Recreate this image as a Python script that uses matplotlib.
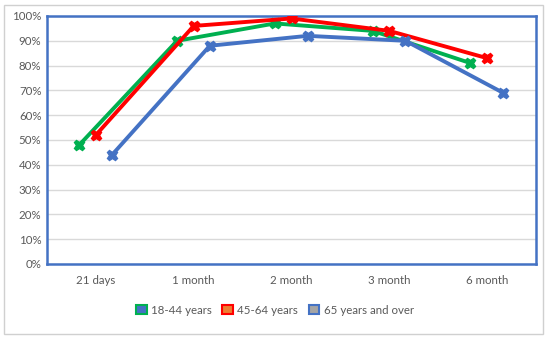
import matplotlib
matplotlib.use('Agg')
import matplotlib.pyplot as plt
import numpy as np
from matplotlib.patches import Rectangle

categories = ['21 days', '1 month', '2 month', '3 month', '6 month']
series_names = ['18-44 years', '45-64 years', '65 years and over']
young = [48, 90, 97, 94, 81]
middle = [52, 96, 99, 94, 83]
older = [44, 88, 92, 90, 69]

line_colors = ['#00B050', '#FF0000', '#4472C4']
fill_colors = ['#4472C4', '#ED7D31', '#A5A5A5']
offsets = [-0.17, 0.0, 0.165]

plt.rcParams['font.family'] = ['Lato', 'DejaVu Sans']

fig = plt.figure(figsize=(5.5, 3.41), dpi=100)
fig.patch.set_facecolor('white')

# outer chart border
fig.patches.append(Rectangle((4/550, 1 - 334/341), 539/550, 329/341,
                             transform=fig.transFigure, fill=False,
                             edgecolor='#D0D0D0', linewidth=1))

ax = fig.add_axes([47/550, 1 - 264/341, 489/550, 248/341])

x = np.arange(len(categories))
for vals, lc, off in zip([young, middle, older], line_colors, offsets):
    ax.plot(x + off, vals, color=lc, linewidth=2.8, marker='X',
            markersize=7.5, markerfacecolor=lc, markeredgecolor=lc,
            solid_capstyle='round', zorder=3)

ax.set_xlim(-0.5, len(categories) - 0.5)
ax.set_ylim(0, 100)
ax.set_yticks(np.arange(0, 101, 10))
ax.set_yticklabels([str(v) + '%' for v in range(0, 101, 10)])
ax.set_xticks(x)
ax.set_xticklabels(categories)
ax.tick_params(axis='both', length=0, labelsize=8.3, labelcolor='#595959')
ax.tick_params(axis='x', pad=8)
ax.tick_params(axis='y', pad=4)
ax.grid(axis='y', color='#D9D9D9', linewidth=1)
ax.set_axisbelow(True)
for s in ax.spines.values():
    s.set_color('#4472C4')
    s.set_linewidth(1.8)

# legend
handles = [Rectangle((0, 0), 1, 1, facecolor=fc, edgecolor=ec, linewidth=1.5)
           for fc, ec in zip(fill_colors, line_colors)]
fig.legend(handles, series_names, loc='center', bbox_to_anchor=(0.5, 1 - 310/341),
           ncol=3, frameon=False, fontsize=8.3, labelcolor='#595959',
           handlelength=0.9, handleheight=0.9, handletextpad=0.4, columnspacing=0.9)

fig.savefig('out.png', dpi=100)
